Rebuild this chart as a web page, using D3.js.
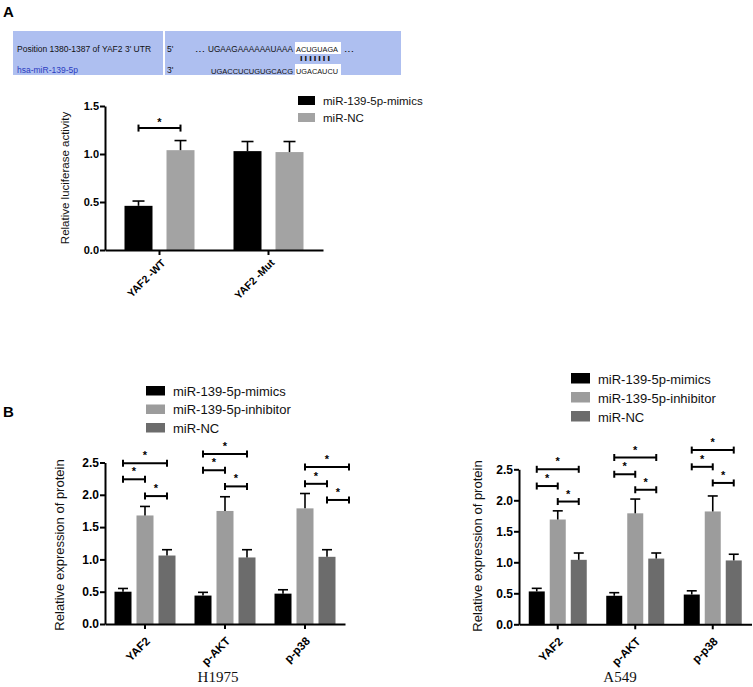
<!DOCTYPE html>
<html><head><meta charset="utf-8">
<script src="https://cdn.jsdelivr.net/npm/d3@7"></script>
<style>
body{margin:0;background:#fff}
svg{display:block}
</style>
</head><body>
<svg id="c" width="753" height="687" font-family='"Liberation Sans",Arial,Helvetica,sans-serif'></svg>
<script>
// ---------- DATA ----------
const panelLetters = ["A", "B"];
const seqLabels = ["Position 1380-1387 of YAF2 3' UTR", "hsa-miR-139-5p"];
const seqEnds = ["5'", "3'"];
const seqDots = "...";
const seqTopPrefix = "UGAAGAAAAAAUAAA";
const seqTopSite = "ACUGUAGA";
const seqPairs = "|||||||";
const seqBotPrefix = "UGACCUCUGUGCACG";
const seqBotSite = "UGACAUCU";

// Panel A
const catsA = ["YAF2 -WT", "YAF2 -Mut"];
const seriesA = ["miR-139-5p-mimics", "miR-NC"];
const mimicsA = [0.46, 1.03];
const mimicsAErr = [0.05, 0.10];
const ncA = [1.04, 1.02];
const ncAErr = [0.10, 0.11];
const ticksA = [0, 0.5, 1.0, 1.5];
// [category, from series index, to series index, bracket height]
const sigA = [["YAF2 -WT", 0, 1, 1.27]];
const yTitleA = "Relative luciferase activity";

// Panel B
const catsB = ["YAF2", "p-AKT", "p-p38"];
const seriesB = ["miR-139-5p-mimics", "miR-139-5p-inhibitor", "miR-NC"];
const ticksB = [0, 0.5, 1.0, 1.5, 2.0, 2.5];
const yTitleB = "Relative expression of protein";
const cellLines = ["H1975", "A549"];

const h1975Mimics = [0.50, 0.44, 0.47];
const h1975MimicsErr = [0.05, 0.05, 0.06];
const h1975Inhibitor = [1.68, 1.75, 1.79];
const h1975InhibitorErr = [0.14, 0.22, 0.23];
const h1975NC = [1.06, 1.03, 1.04];
const h1975NCErr = [0.09, 0.12, 0.11];
const sigH1975 = [
  ["YAF2", 0, 2, 2.49], ["YAF2", 0, 1, 2.24], ["YAF2", 1, 2, 1.98],
  ["p-AKT", 0, 2, 2.63], ["p-AKT", 0, 1, 2.38], ["p-AKT", 1, 2, 2.13],
  ["p-p38", 1, 3, 2.43], ["p-p38", 1, 2, 2.17], ["p-p38", 2, 3, 1.92]
];

const a549Mimics = [0.53, 0.46, 0.48];
const a549MimicsErr = [0.05, 0.05, 0.06];
const a549Inhibitor = [1.69, 1.79, 1.82];
const a549InhibitorErr = [0.14, 0.23, 0.25];
const a549NC = [1.04, 1.06, 1.03];
const a549NCErr = [0.11, 0.09, 0.10];
const sigA549 = [
  ["YAF2", 0, 2, 2.50], ["YAF2", 0, 1, 2.23], ["YAF2", 1, 2, 1.98],
  ["p-AKT", 0, 2, 2.69], ["p-AKT", 0, 1, 2.42], ["p-AKT", 1, 2, 2.17],
  ["p-p38", 0, 2, 2.81], ["p-p38", 0, 1, 2.54], ["p-p38", 1, 2, 2.28]
];

// ---------- DRAW ----------
const SANS = '"Liberation Sans",Arial,Helvetica,sans-serif';
const SERIF = '"Liberation Serif","Times New Roman",Times,serif';
const svg = d3.select("#c");

svg.append("text").attr("x", 3).attr("y", 17).attr("font-size", 15).attr("font-weight", "bold").text(panelLetters[0]);
svg.append("text").attr("x", 3).attr("y", 417).attr("font-size", 15).attr("font-weight", "bold").text(panelLetters[1]);

// sequence alignment box
const sg = svg.append("g");
sg.append("rect").attr("x", 13).attr("y", 31).attr("width", 388).attr("height", 44).attr("fill", "#aebff0");
sg.append("rect").attr("x", 163).attr("y", 31).attr("width", 2).attr("height", 44).attr("fill", "#fff");
sg.append("rect").attr("x", 295).attr("y", 42).attr("width", 46).attr("height", 12).attr("fill", "#fff");
sg.append("rect").attr("x", 295).attr("y", 64).attr("width", 46).attr("height", 11).attr("fill", "#fff");
const st = (x, y, t, opts = {}) => {
  const e = sg.append("text").attr("x", x).attr("y", y).attr("font-size", opts.size || 8.5)
    .attr("fill", opts.fill || "#111").text(t);
  if (opts.len) e.attr("textLength", opts.len).attr("lengthAdjust", "spacingAndGlyphs");
  return e;
};
st(17, 52, seqLabels[0]);
st(17, 73, seqLabels[1], {fill: "#2b3cc0"});
st(167, 52, seqEnds[0]);
st(167, 73, seqEnds[1]);
st(195, 52, seqDots, {len: 10});
st(208, 52, seqTopPrefix, {len: 85, size: 8.2});
st(296, 52, seqTopSite, {len: 42, size: 7.3});
st(344, 52, seqDots, {len: 10});
st(299, 60, seqPairs, {len: 32, size: 6});
st(211, 74, seqBotPrefix, {len: 82, size: 7.5});
st(296, 74, seqBotSite, {len: 42, size: 7.3});

function panel(cfg) {
  const g = svg.append("g");
  const x = d3.scaleBand().domain(cfg.cats).range([cfg.x0, cfg.x1]);
  const y = d3.scaleLinear().domain([0, cfg.yMax]).range([cfg.yBottom, cfg.yTop]);
  const sub = d3.scaleLinear().domain([0, cfg.series.length - 1]).range([-cfg.subHalf, cfg.subHalf]);
  const cx = (cat, i) => x(cat) + x.bandwidth() / 2 + sub(i);

  cfg.series.forEach((s, si) => {
    const data = cfg.cats.map((c, ci) => ({c, v: cfg.values[si][ci], e: cfg.errs[si][ci]}));
    g.selectAll(null).data(data).join("rect")
      .attr("x", d => cx(d.c, si) - cfg.barW / 2).attr("width", cfg.barW)
      .attr("y", d => y(d.v)).attr("height", d => y(0) - y(d.v))
      .attr("fill", cfg.colors[si]);
    g.selectAll(null).data(data).join("line")
      .attr("x1", d => cx(d.c, si)).attr("x2", d => cx(d.c, si))
      .attr("y1", d => y(d.v)).attr("y2", d => y(d.v + d.e))
      .attr("stroke", "#000").attr("stroke-width", 1.6);
    g.selectAll(null).data(data).join("line")
      .attr("x1", d => cx(d.c, si) - cfg.capW / 2).attr("x2", d => cx(d.c, si) + cfg.capW / 2)
      .attr("y1", d => y(d.v + d.e)).attr("y2", d => y(d.v + d.e))
      .attr("stroke", "#000").attr("stroke-width", 1.6);
  });

  // axes
  const ya = g.append("g").attr("transform", `translate(${cfg.x0},0)`)
    .call(d3.axisLeft(y).tickValues(cfg.ticks).tickFormat(d3.format(".1f")).tickSize(5).tickSizeOuter(0));
  ya.attr("font-family", SANS);
  ya.selectAll("text").attr("font-size", cfg.tickFont).attr("font-weight", "bold").attr("fill", "#000")
    .attr("x", -6);
  const xa = g.append("g").attr("transform", `translate(0,${cfg.yBottom})`)
    .call(d3.axisBottom(x).tickSize(5).tickSizeOuter(0));
  xa.attr("font-family", SANS);
  xa.selectAll("text").attr("font-size", cfg.xLabelFont).attr("font-weight", "bold").attr("fill", "#000")
    .attr("x", 0).attr("y", 0).attr("dy", "0.35em").attr("text-anchor", "end")
    .attr("transform", `translate(${cfg.lblDx},${cfg.lblDy}) rotate(-45)`);
  [ya, xa].forEach(a => {
    a.select(".domain").attr("stroke", "#000").attr("stroke-width", 2);
    a.selectAll(".tick line").attr("stroke", "#000").attr("stroke-width", 2);
  });

  // significance brackets
  cfg.sig.forEach(([cat, a, b, h]) => {
    const x1 = cx(cat, a), x2 = cx(cat, b), yy = y(h);
    g.append("line").attr("x1", x1).attr("x2", x2).attr("y1", yy).attr("y2", yy)
      .attr("stroke", "#000").attr("stroke-width", 2);
    [x1, x2].forEach(xx => g.append("line").attr("x1", xx).attr("x2", xx)
      .attr("y1", yy - 3.5).attr("y2", yy + 3.5).attr("stroke", "#000").attr("stroke-width", 2));
    g.append("text").attr("x", (x1 + x2) / 2).attr("y", yy - cfg.starOff)
      .attr("text-anchor", "middle").attr("font-size", cfg.starSize).attr("font-weight", "bold").text("*");
  });

  // legend
  const L = cfg.legend;
  cfg.series.forEach((s, i) => {
    g.append("rect").attr("x", L.x).attr("y", L.y + i * L.dy).attr("width", L.w).attr("height", L.h)
      .attr("fill", cfg.colors[i]);
    g.append("text").attr("x", L.x + L.tx).attr("y", L.y + i * L.dy + L.h)
      .attr("font-size", L.size).attr("fill", "#111").text(s);
  });

  // y title
  g.append("text").attr("transform", `translate(${cfg.yTitleX},${cfg.yTitleY}) rotate(-90)`)
    .attr("text-anchor", "middle").attr("dy", "0.35em").attr("font-size", cfg.yTitleSize)
    .attr("fill", "#111").text(cfg.yTitle);

  if (cfg.cell) {
    g.append("text").attr("x", cfg.cell.x).attr("y", cfg.cell.y).attr("text-anchor", "middle")
      .attr("font-family", SERIF).style("font-family", SERIF).attr("font-size", 15)
      .attr("fill", "#111").text(cfg.cell.t);
  }
}

panel({
  cats: catsA, series: seriesA, values: [mimicsA, ncA], errs: [mimicsAErr, ncAErr],
  colors: ["#000000", "#a3a3a3"], x0: 105, x1: 323, yBottom: 250, yTop: 106, yMax: 1.5,
  ticks: ticksA, subHalf: 21, barW: 28, capW: 12, sig: sigA, starOff: 2, starSize: 11,
  tickFont: 11, xLabelFont: 10.5, lblDx: 4, lblDy: 11,
  legend: {x: 298, y: 96, dy: 17, w: 17, h: 9, tx: 25, size: 11.5},
  yTitle: yTitleA, yTitleX: 65, yTitleY: 178, yTitleSize: 11.5
});

panel({
  cats: catsB, series: seriesB, values: [h1975Mimics, h1975Inhibitor, h1975NC],
  errs: [h1975MimicsErr, h1975InhibitorErr, h1975NCErr],
  colors: ["#000000", "#9c9c9c", "#6c6c6c"], x0: 105, x1: 345, yBottom: 624, yTop: 462.5, yMax: 2.5,
  ticks: ticksB, subHalf: 22, barW: 17, capW: 10, sig: sigH1975, starOff: 4, starSize: 11,
  tickFont: 12, xLabelFont: 11.5, lblDx: 3, lblDy: 15,
  legend: {x: 146, y: 386, dy: 18.5, w: 19, h: 9.5, tx: 27, size: 13},
  yTitle: yTitleB, yTitleX: 59, yTitleY: 545, yTitleSize: 13,
  cell: {t: cellLines[0], x: 218, y: 682}
});

panel({
  cats: catsB, series: seriesB, values: [a549Mimics, a549Inhibitor, a549NC],
  errs: [a549MimicsErr, a549InhibitorErr, a549NCErr],
  colors: ["#000000", "#9c9c9c", "#6c6c6c"], x0: 519, x1: 751.5, yBottom: 624.3, yTop: 469.3, yMax: 2.5,
  ticks: ticksB, subHalf: 21, barW: 16, capW: 10, sig: sigA549, starOff: 4, starSize: 11,
  tickFont: 12, xLabelFont: 11.5, lblDx: 3, lblDy: 15,
  legend: {x: 571, y: 373, dy: 19, w: 19, h: 10.5, tx: 27, size: 13},
  yTitle: yTitleB, yTitleX: 477, yTitleY: 546, yTitleSize: 13,
  cell: {t: cellLines[1], x: 620, y: 682}
});
</script>
</body></html>
